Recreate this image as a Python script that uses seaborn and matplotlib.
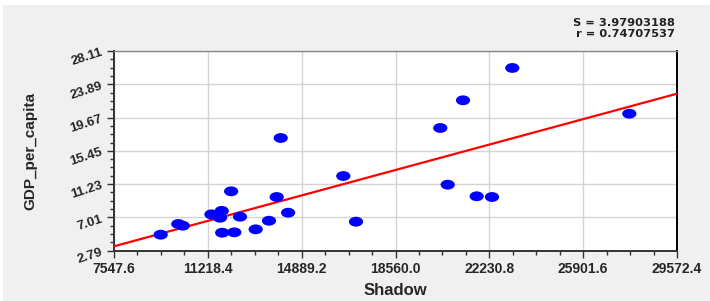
import matplotlib
matplotlib.use("Agg")
import matplotlib.pyplot as plt
import seaborn as sns
from matplotlib.path import Path
from matplotlib.patches import Rectangle
from matplotlib.ticker import AutoMinorLocator, FixedLocator

# values
shadow = [9374, 10063, 10235, 11360, 11761, 11694, 12130, 11780, 12254, 12477,
          13090, 13611, 13912, 14360, 14069, 16518, 17015, 20312, 20602, 21201,
          21736, 22335, 23130, 27707]
gdp_per_capita = [4.82, 6.18, 5.96, 7.40, 7.84, 6.97, 10.32, 5.07, 5.12, 7.10,
                  5.50, 6.59, 9.60, 7.61, 17.08, 12.26, 6.47, 18.35, 11.16, 21.86,
                  9.69, 9.60, 25.96, 20.16]
x_ticks = [7547.6, 11218.4, 14889.2, 18560.0, 22230.8, 25901.6, 29572.4]
y_ticks = [2.79, 7.01, 11.23, 15.45, 19.67, 23.89, 28.11]
stats_text = ["S = 3.97903188", "r = 0.74707537"]

sns.set_style("white")
plt.rcParams["font.family"] = ["Liberation Sans", "DejaVu Sans"]
plt.rcParams["font.weight"] = "bold"

fig = plt.figure(figsize=(7.1, 3.01), dpi=100)
fig.patch.set_facecolor("white")
fig.patches.append(Rectangle((3 / 710, 0), 1, 1 - 5 / 301, transform=fig.transFigure,
                             facecolor="#f0f0f0", edgecolor="none", zorder=-10))
ax = fig.add_axes([114 / 710, 1 - 250.7 / 301, 563 / 710, 199.7 / 301])
ax.set_facecolor("white")

ax.set_xlim(x_ticks[0], x_ticks[-1])
ax.set_ylim(y_ticks[0], y_ticks[-1])

# ellipse marker (wider than tall)
circ = Path.unit_circle()
ellipse = Path(circ.vertices * [1.45, 1.0], circ.codes)

sns.regplot(x=shadow, y=gdp_per_capita, scatter=False, ci=None, truncate=False,
            line_kws=dict(color="#ff0000", lw=1.6, zorder=3), ax=ax)
sns.scatterplot(x=shadow, y=gdp_per_capita, marker=ellipse, s=105, color="#0000ff",
                edgecolor="none", zorder=4, ax=ax)

ax.set_xlim(x_ticks[0], x_ticks[-1])
ax.set_ylim(y_ticks[0], y_ticks[-1])
ax.xaxis.set_major_locator(FixedLocator(x_ticks))
ax.yaxis.set_major_locator(FixedLocator(y_ticks))
ax.set_xticklabels([f"{v:.1f}" for v in x_ticks], fontsize=10, fontweight="bold")
ax.set_yticklabels([f"{v:.2f}" for v in y_ticks], fontsize=9.5, fontweight="bold",
                   rotation=18, ha="right", rotation_mode="anchor")
ax.xaxis.set_minor_locator(AutoMinorLocator(4))
ax.yaxis.set_minor_locator(AutoMinorLocator(4))
ax.tick_params(which="major", direction="out", length=5, width=1, color="#333333",
               bottom=True, left=True, pad=3)
ax.tick_params(which="minor", direction="out", length=3, width=1, color="#333333",
               bottom=True, left=True)
ax.tick_params(axis="y", which="major", pad=4)

ax.grid(True, which="major", color="#d4d4d4", lw=1)
ax.set_axisbelow(True)

for side in ["left", "bottom"]:
    ax.spines[side].set_color("#333333")
    ax.spines[side].set_linewidth(1.4)
ax.spines["top"].set_color("#888888")
ax.spines["top"].set_linewidth(1)
ax.spines["right"].set_color("#000000")
ax.spines["right"].set_linewidth(1.4)

ax.set_xlabel("Shadow", fontsize=12, fontweight="bold", labelpad=5)
ax.set_ylabel("GDP_per_capita", fontsize=11, fontweight="bold", labelpad=22)

fig.text(675 / 710, 1 - 28.5 / 301, "\n".join(stats_text), ha="right", va="center",
         multialignment="right", linespacing=1.05, fontsize=8.2, fontweight="bold",
         color="#222222", family="DejaVu Sans")

fig.savefig("out.png", dpi=100, facecolor=fig.get_facecolor())
